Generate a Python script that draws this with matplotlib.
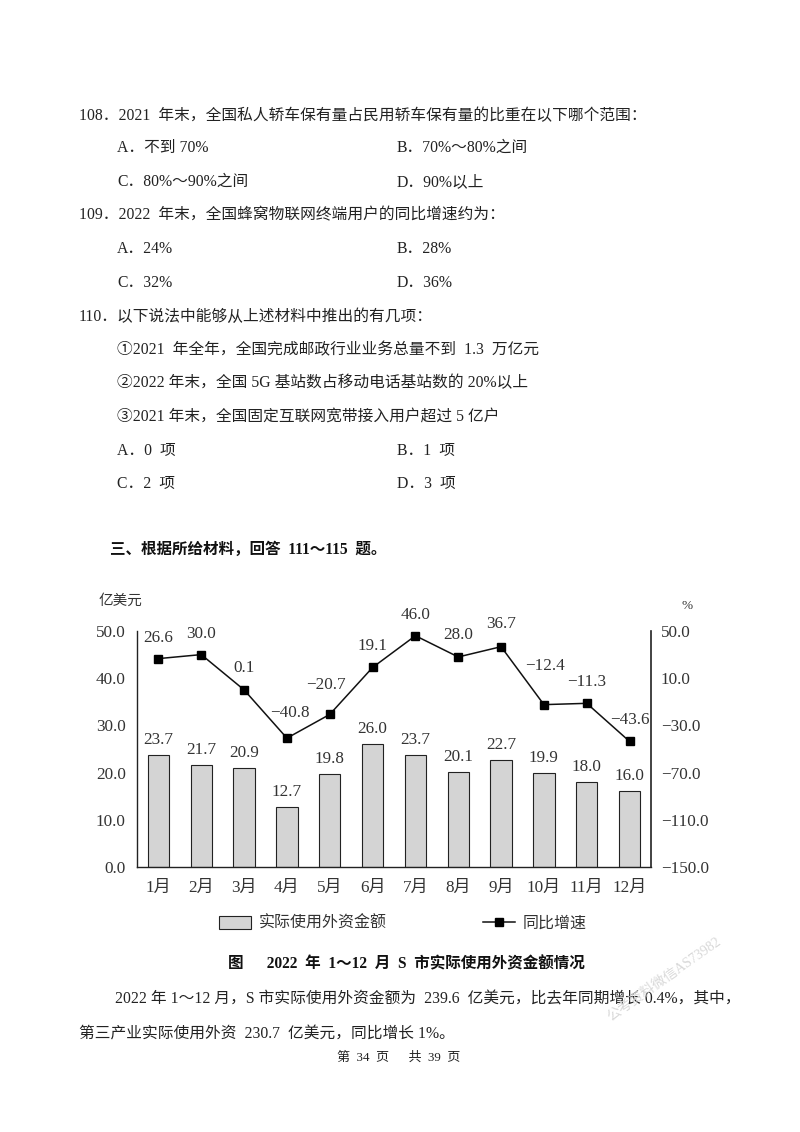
import matplotlib
matplotlib.use("Agg")
import matplotlib.pyplot as plt
from matplotlib.lines import Line2D
from matplotlib.patches import Patch

plt.rcParams['font.family'] = ['Liberation Serif', 'Noto Sans CJK SC', 'DejaVu Sans']

months = ['1月','2月','3月','4月','5月','6月','7月','8月','9月','10月','11月','12月']
amount = [23.7,21.7,20.9,12.7,19.8,26.0,23.7,20.1,22.7,19.9,18.0,16.0]
growth = [26.6,30.0,0.1,-40.8,-20.7,19.1,46.0,28.0,36.7,-12.4,-11.3,-43.6]
left_ticks = [0,10,20,30,40,50]
right_ticks = [-150,-110,-70,-30,10,50]
line_label_dx = [0,0,0,3,-4,0,0,0,0,1,0,0]
line_label_dy = [21,21,22,25,29,21,21,22,23,39,21,21]

page_text = [
 (79,116,'108．2021  年末，全国私人轿车保有量占民用轿车保有量的比重在以下哪个范围：'),
 (117,148,'A．不到 70%'),(397,148,'B．70%～80%之间'),
 (117,182,'C．80%～90%之间'),(397,182,'D．90%以上'),
 (79,215,'109．2022  年末，全国蜂窝物联网终端用户的同比增速约为：'),
 (117,249,'A．24%'),(397,249,'B．28%'),
 (117,283,'C．32%'),(397,283,'D．36%'),
 (79,317,'110．以下说法中能够从上述材料中推出的有几项：'),
 (117,350,'①2021  年全年，全国完成邮政行业业务总量不到  1.3  万亿元'),
 (117,383,'②2022 年末，全国 5G 基站数占移动电话基站数的 20%以上'),
 (117,417,'③2021 年末，全国固定互联网宽带接入用户超过 5 亿户'),
 (117,451,'A．0  项'),(397,451,'B．1  项'),
 (117,484,'C．2  项'),(397,484,'D．3  项'),
 (115,1000,'2022 年 1～12 月，S 市实际使用外资金额为  239.6  亿美元，比去年同期增长 0.4%，其中，'),
 (79,1035,'第三产业实际使用外资  230.7  亿美元，同比增长 1%。'),
]
bold_text = [
 (110,550,'三、根据所给材料，回答  111～115  题。'),
]

W, H = 800, 1132
fig = plt.figure(figsize=(8.0, 11.32), dpi=100, facecolor='white')
X = lambda p: p / W
Y = lambda p: 1 - p / H

for x, y, s in page_text:
    fig.text(X(x), Y(y), s, fontsize=11.3, color='#222222', va='center', ha='left')
for x, y, s in bold_text:
    fig.text(X(x), Y(y), s, fontsize=11.2, color='#111111', va='center', ha='left', fontweight='bold')
fig.text(X(406), Y(964), '图      2022  年  1～12  月  S  市实际使用外资金额情况', fontsize=11.2,
         color='#111111', va='center', ha='center', fontweight='bold')
fig.text(X(399), Y(1058), '第  34  页      共  39  页', fontsize=9.4, color='#222222', va='center', ha='center')
fig.text(X(664), Y(979), '公考资料微信AS73982', fontsize=10, color='#d8d8d8', rotation=35,
         va='center', ha='center', rotation_mode='anchor')

ax = fig.add_axes([X(137), Y(867), (651-137)/W, (867-631)/H])
ax.set_facecolor('none')
pos = list(range(len(months)))
bars = ax.bar(pos, amount, width=0.5, color='#d4d4d4', edgecolor='#222222', linewidth=0.8)
ax.set_xlim(-0.5, 11.5)
ax.set_ylim(0, 50)
ax.set_yticks(left_ticks)
ax.set_yticklabels([f'{v:.1f}' for v in left_ticks])
ax.set_xticks(pos)
ax.set_xticklabels(months)
ax.tick_params(axis='both', length=0, labelsize=12.3, colors='#333333')
ax.tick_params(axis='x', pad=9)
ax.tick_params(axis='y', pad=8)
for s in ['top', 'right']:
    ax.spines[s].set_visible(False)
for s in ['left', 'bottom']:
    ax.spines[s].set_color('#222222')
    ax.spines[s].set_linewidth(1.0)
for i, v in zip(pos, amount):
    ax.annotate(f'{v:.1f}', (i, v), xytext=(0, 15), textcoords='offset pixels',
                ha='center', va='center', fontsize=12.3, color='#333333')

ax2 = ax.twinx()
ax2.set_facecolor('none')
ax2.set_ylim(-150, 50)
ax2.set_yticks(right_ticks)
ax2.set_yticklabels([f'{v:.1f}'.replace('-', '−') for v in right_ticks])
ax2.tick_params(axis='y', length=0, labelsize=12.3, colors='#333333', pad=7)
for s in ['top', 'left', 'bottom']:
    ax2.spines[s].set_visible(False)
ax2.spines['right'].set_color('#222222')
ax2.spines['right'].set_linewidth(1.2)
ax2.plot(pos, growth, color='#111111', linewidth=1.1, marker='s', markersize=5.2,
         markerfacecolor='black', markeredgecolor='black')
for i, v, dx, dy in zip(pos, growth, line_label_dx, line_label_dy):
    ax2.annotate(f'{v:.1f}'.replace('-', '−'), (i, v), xytext=(dx, dy), textcoords='offset pixels',
                 ha='center', va='center', fontsize=12.3, color='#333333', clip_on=False)

fig.text(X(99), Y(601), '亿美元', fontsize=10.5, color='#333333', va='center', ha='left')
fig.text(X(687), Y(606), '%', fontsize=9.5, color='#333333', va='center', ha='center')

handles = [Patch(facecolor='#d4d4d4', edgecolor='#222222', linewidth=0.8),
           Line2D([], [], color='#111111', linewidth=1.1, marker='s', markersize=5.2,
                  markerfacecolor='black', markeredgecolor='black')]
fig.legend(handles, ['实际使用外资金额', '同比增速'], loc='center', bbox_to_anchor=(X(403), Y(924)),
           ncols=2, frameon=False, fontsize=11.5, labelcolor='#333333', columnspacing=6.0,
           handlelength=2.0, handletextpad=0.5, handleheight=0.9)

fig.savefig('out.png', dpi=100)
